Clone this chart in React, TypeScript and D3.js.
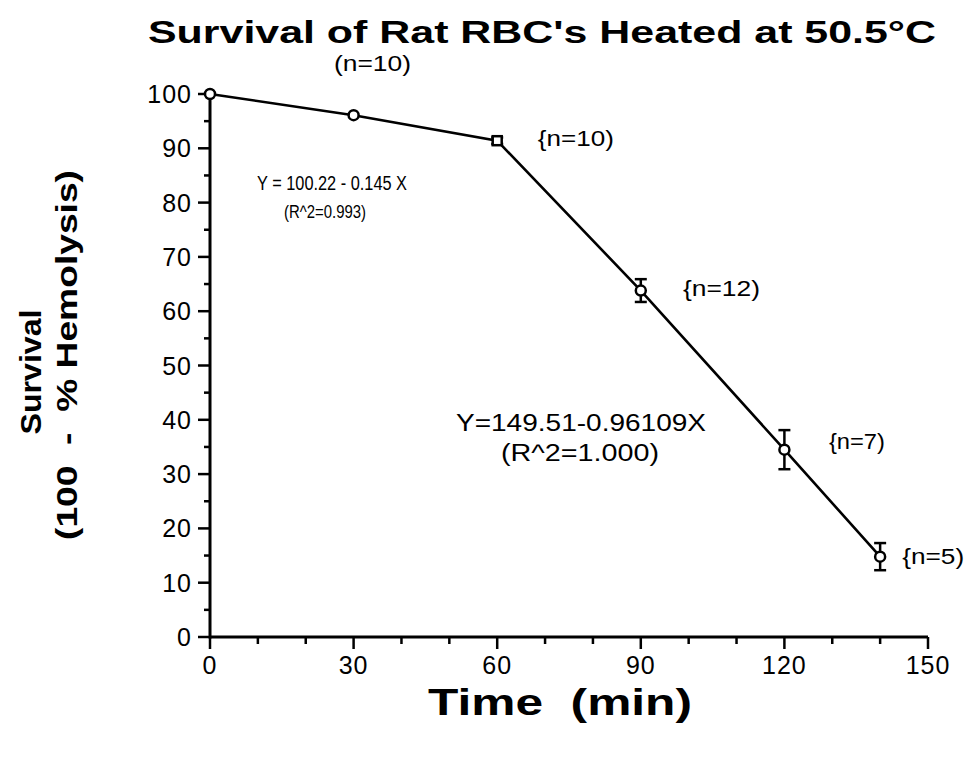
import React from "react";
import * as d3 from "d3";

const times = [0, 30, 60, 90, 120, 140];
const survival = [100, 96.1, 91.4, 63.8, 34.5, 14.8];
const errors = [0, 0, 0.6, 2.1, 3.6, 2.5];
const markerShapes = ["circle", "circle", "square", "circle", "circle", "circle"];
const nLabels = ["(n=10)", "{n=10)", "{n=12)", "{n=7)", "{n=5)"];
const nLabelAt = [
  [25.9, 104.2],
  [68.5, 90.5],
  [98.8, 62.8],
  [129.3, 34.6],
  [144.6, 13.4],
];
const nLabelWidths = [77, 76, 77, 56, 62];
const xTicks = [0, 30, 60, 90, 120, 150];
const yTicks = [0, 10, 20, 30, 40, 50, 60, 70, 80, 90, 100];

export default function App() {
  const W = 968, H = 757;
  const x = d3.scaleLinear().domain([0, 150]).range([210, 928]);
  const y = d3.scaleLinear().domain([0, 100]).range([637, 94]);
  const line = d3.line<number>().x((_, i) => x(times[i])).y((d) => y(d));
  const font = "'Liberation Sans', Arial, Helvetica, sans-serif";
  const xMinor = d3.range(0, 151, 10);
  const yMinor = d3.range(0, 101, 5);
  return (
    <svg width={W} height={H} style={{ position: "absolute", left: 0, top: 0, background: "#fff" }} fontFamily={font}>
      <rect width={W} height={H} fill="#fff" />
      <text x={148} y={43} fontSize={31} fontWeight="bold" textLength={788} lengthAdjust="spacingAndGlyphs">
        Survival of Rat RBC's Heated at 50.5°C
      </text>
      {/* axes */}
      <line x1={x(0)} x2={x(150)} y1={y(0)} y2={y(0)} stroke="#000" strokeWidth={3} />
      <line x1={x(0)} x2={x(0)} y1={y(0) + 1.5} y2={y(100)} stroke="#000" strokeWidth={3} />
      {xMinor.map((t) => (
        <line key={"xm" + t} x1={x(t)} x2={x(t)} y1={y(0)} y2={y(0) + (t % 30 === 0 ? 12 : 7)} stroke="#000" strokeWidth={2.5} />
      ))}
      {yMinor.map((v) => (
        <line key={"ym" + v} x1={x(0)} x2={x(0) - (v % 10 === 0 ? 12 : 6)} y1={y(v)} y2={y(v)} stroke="#000" strokeWidth={2.5} />
      ))}
      {xTicks.map((t) => (
        <text key={"xt" + t} x={x(t)} y={674} textAnchor="middle" fontSize={25} letterSpacing={1}>{t}</text>
      ))}
      {yTicks.map((v) => (
        <text key={"yt" + v} x={192} y={y(v) + 9} textAnchor="end" fontSize={25} letterSpacing={1}>{v}</text>
      ))}
      <text x={428} y={715} fontSize={37} fontWeight="bold" textLength={264} lengthAdjust="spacingAndGlyphs" xmlSpace="preserve">Time  (min)</text>
      <g transform="translate(41,372) rotate(-90)">
        <text x={0} y={0} textAnchor="middle" fontSize={29} fontWeight="bold" textLength={125} lengthAdjust="spacingAndGlyphs">Survival</text>
      </g>
      <g transform="translate(77,355) rotate(-90)">
        <text x={0} y={0} textAnchor="middle" fontSize={29} fontWeight="bold" xmlSpace="preserve" textLength={370} lengthAdjust="spacingAndGlyphs">(100  -  % Hemolysis)</text>
      </g>
      {/* data line */}
      <path d={line(survival) || ""} fill="none" stroke="#000" strokeWidth={2.6} />
      {times.map((t, i) =>
        errors[i] > 0 ? (
          <g key={"e" + i} stroke="#000" strokeWidth={2.5}>
            <line x1={x(t)} x2={x(t)} y1={y(survival[i] + errors[i])} y2={y(survival[i] - errors[i])} />
            <line x1={x(t) - 6} x2={x(t) + 6} y1={y(survival[i] + errors[i])} y2={y(survival[i] + errors[i])} />
            <line x1={x(t) - 6} x2={x(t) + 6} y1={y(survival[i] - errors[i])} y2={y(survival[i] - errors[i])} />
          </g>
        ) : null
      )}
      {times.map((t, i) =>
        markerShapes[i] === "square" ? (
          <rect key={"m" + i} x={x(t) - 4.5} y={y(survival[i]) - 4.5} width={9} height={9} fill="#fff" stroke="#000" strokeWidth={2.5} />
        ) : (
          <circle key={"m" + i} cx={x(t)} cy={y(survival[i])} r={5} fill="#fff" stroke="#000" strokeWidth={2.5} />
        )
      )}
      {nLabels.map((s, i) => (
        <text key={"n" + i} x={x(nLabelAt[i][0])} y={y(nLabelAt[i][1])} fontSize={22} textLength={nLabelWidths[i]} lengthAdjust="spacingAndGlyphs">{s}</text>
      ))}
      <text x={257} y={190} fontSize={20} textLength={150} lengthAdjust="spacingAndGlyphs">Y = 100.22 - 0.145 X</text>
      <text x={284} y={218} fontSize={19} textLength={82} lengthAdjust="spacingAndGlyphs">(R^2=0.993)</text>
      <text x={456} y={431} fontSize={24} textLength={250} lengthAdjust="spacingAndGlyphs">Y=149.51-0.96109X</text>
      <text x={501} y={461} fontSize={23} textLength={158} lengthAdjust="spacingAndGlyphs">(R^2=1.000)</text>
    </svg>
  );
}
